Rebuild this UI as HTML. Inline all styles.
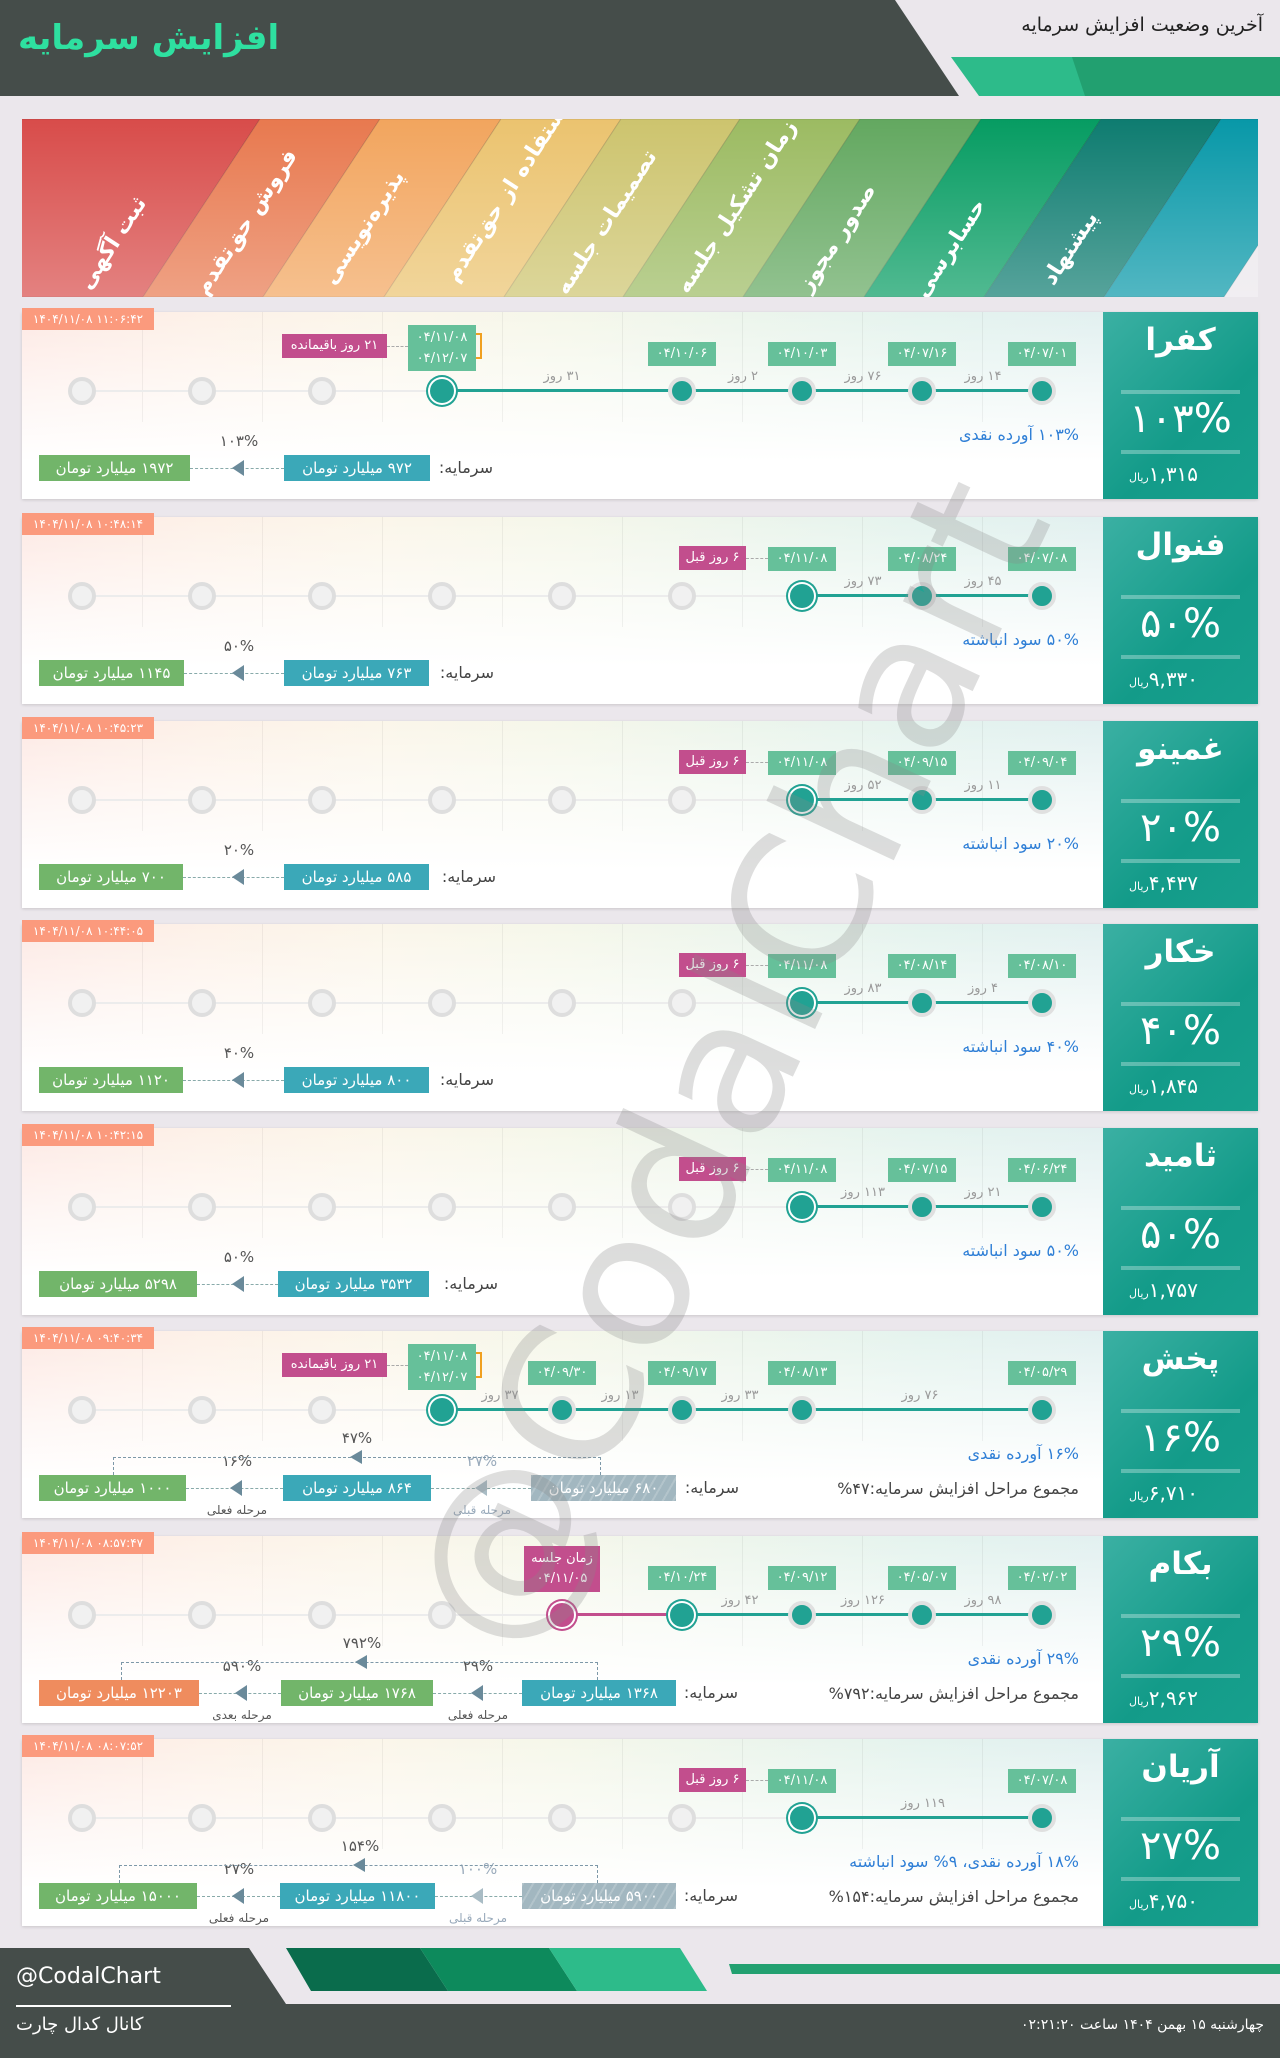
<!DOCTYPE html>
<html><head><meta charset="utf-8">
<style>
*{margin:0;padding:0;box-sizing:border-box}
body{width:1280px;height:2058px;position:relative;background:#ebe7ec;font-family:"DejaVu Sans","Liberation Sans",sans-serif;overflow:hidden}
.a{position:absolute}
.t{position:absolute;white-space:nowrap;direction:rtl}
.card{position:absolute;left:22px;width:1236px;height:187px;box-shadow:0 1px 3px rgba(0,0,0,.15);
background:linear-gradient(to bottom,rgba(255,255,255,0) 0%,rgba(255,255,255,.6) 45%,#fff 80%),linear-gradient(to right,#fde9e4,#fdf1e8,#fbf6ea,#f5f7ea,#ecf5ec,#e4f3ee,#e2f0f0 88%);}
.col{position:absolute;top:0;height:110px;width:1px;background:rgba(0,0,0,.05)}
.panel{position:absolute;left:1103px;width:155px;height:187px;background:linear-gradient(135deg,#3bb0a3,#139b89 60%,#17a08d);color:#fff;text-align:center}
.ts{position:absolute;left:22px;height:22px;width:132px;background:#fb9a7d;color:#fff;font-size:12px;line-height:22px;text-align:center;direction:ltr}
.cir{position:absolute;border-radius:50%}
.db{position:absolute;background:#66c09a;color:#fff;font-size:13px;text-align:center;line-height:24px;height:24px;width:68px}
.pk{position:absolute;background:#c24e8d;color:#fff;font-size:13px;text-align:center;line-height:24px;height:24px;direction:rtl}
.day{position:absolute;color:#9a9a9a;font-size:13px;direction:rtl;transform:translateX(-50%)}
.box{position:absolute;height:26px;color:#fff;font-size:15px;line-height:26px;text-align:center;direction:rtl;white-space:nowrap;overflow:hidden}
</style></head><body>

<svg class="a" style="left:0;top:0" width="1280" height="100">
<polygon points="0,0 895,0 959,96 0,96" fill="#454d4a"/>
<polygon points="951,57 1280,57 1280,96 979,96" fill="#2dbb8a"/>
<polygon points="1072,57 1280,57 1280,96 1085,96" fill="#22a070"/>
</svg>
<div class="t" style="left:18px;top:18px;font-size:34px;font-weight:bold;color:#2ee0a0">افزایش سرمایه</div>
<div class="t" style="right:17px;top:14px;font-size:19px;color:#222">آخرین وضعیت افزایش سرمایه</div>

<svg class="a" style="left:22px;top:119px" width="1236" height="178" viewBox="22 119 1236 178">
<defs><linearGradient id="wf" x1="0" y1="0" x2="0" y2="1"><stop offset="0" stop-color="#fff" stop-opacity="0"/><stop offset="1" stop-color="#fff" stop-opacity=".3"/></linearGradient></defs>
<g id="stripes"></g>
<rect x="22" y="119" width="1236" height="178" fill="url(#wf)"/>
<g id="labels" font-family="DejaVu Sans" font-weight="bold" font-size="22" fill="#fff"></g>
</svg>

<div id="root"></div>

<svg class="a" style="left:0;top:1940px" width="1280" height="118">
<polygon points="0,8 249,8 286,64 1280,64 1280,118 0,118" fill="#454d4a"/>
<polygon points="286,8 420,8 448,51 311,51" fill="#0a6c4c"/>
<polygon points="420,8 549,8 577,51 448,51" fill="#0d8a5c"/>
<polygon points="549,8 680,8 707,51 577,51" fill="#2dbb8a"/>
<polygon points="729,24 1280,24 1280,34 732,34" fill="#22a070"/>
<rect x="16" y="65" width="215" height="2" fill="#fff"/>
</svg>
<div class="t" style="left:16px;top:1964px;font-size:22px;color:#fff;direction:ltr">@CodalChart</div>
<div class="t" style="left:16px;top:2014px;font-size:18px;color:#fff">کانال کدال چارت</div>
<div class="t" style="right:16px;top:2017px;font-size:14px;color:#fff">چهارشنبه ۱۵ بهمن ۱۴۰۴ ساعت ۰۲:۲۱:۲۰</div>

<svg class="a" style="left:0;top:0;pointer-events:none" width="1280" height="2058">
<text x="0" y="0" transform="translate(740,1070) rotate(-65)" text-anchor="middle" dominant-baseline="middle" font-family="DejaVu Sans" font-size="185" fill="#8a8a8a" fill-opacity=".28" textLength="1260" lengthAdjust="spacingAndGlyphs">@CodalChart</text>
</svg>

<script>
(function(){
 var cols=['#d84c4a','#e8794f','#f2a55e','#ebc36f','#cdc46e','#9cbb62','#63a860','#069c62','#0e7c70','#0898a8'];
 var bot=[-100,143,263,384,504,623,743,864,984,1104,1224,1400];
 var s='';
 for(var i=0;i<10;i++){
  var b0=bot[i],b1=bot[i+1];
  s+='<polygon points="'+(b0+117)+',119 '+(b1+117)+',119 '+b1+',297 '+b0+',297" fill="'+cols[i]+'" stroke="rgba(0,0,0,.12)" stroke-width="1"/>';
 }
 document.getElementById('stripes').innerHTML=s;
 var labs=['ثبت آگهی','فروش حق‌تقدم','پذیره‌نویسی','استفاده از حق‌تقدم','تصمیمات جلسه','زمان تشکیل جلسه','صدور مجوز','حسابرسی','پیشنهاد'];
 var L='';
 for(var i=0;i<9;i++){
  var len=labs[i].length;
  var cy=285-len*5.2;
  var cx=(bot[i+1]-60)+(297-cy)/178*117-5;
  L+='<text x="0" y="0" text-anchor="middle" dominant-baseline="middle" transform="translate('+cx+','+cy+') rotate(-57)">'+labs[i]+'</text>';
 }
 document.getElementById('labels').innerHTML=L;
})();

var CX=function(i){return 82+120*i};
var cards=[
{T:312,ts:'۱۱:۰۶:۴۲',name:'کفرا',pct:'۱۰۳%',price:'۱,۳۱۵',
 c:'gggcnffff',line:[3,8],
 dates:[[8,'۰۴/۰۷/۰۱'],[7,'۰۴/۰۷/۱۶'],[6,'۰۴/۱۰/۰۳'],[5,'۰۴/۱۰/۰۶'],[3,['۰۴/۱۱/۰۸','۰۴/۱۲/۰۷']]],
 pink:{x:282,w:105,t:'۲۱ روز باقیمانده',y:22},
 days:[[983,'۱۴ روز'],[863,'۷۶ روز'],[743,'۲ روز'],[562,'۳۱ روز']],
 info:['۱۰۳% آورده نقدی'],
 sar:493,boxes:[[284,430,'#3ba8b8','۹۷۲ میلیارد تومان'],[39,190,'#72b56a','۱۹۷۲ میلیارد تومان']],
 arrows:[[239,'۱۰۳%','']]},
{T:517,ts:'۱۰:۴۸:۱۴',name:'فنوال',pct:'۵۰%',price:'۹,۳۳۰',
 c:'ggggggcff',line:[6,8],
 dates:[[8,'۰۴/۰۷/۰۸'],[7,'۰۴/۰۸/۲۴'],[6,'۰۴/۱۱/۰۸']],
 pink:{x:679,w:67,t:'۶ روز قبل',y:29},
 days:[[983,'۴۵ روز'],[863,'۷۳ روز']],
 info:['۵۰% سود انباشته'],
 sar:494,boxes:[[284,429,'#3ba8b8','۷۶۳ میلیارد تومان'],[39,184,'#72b56a','۱۱۴۵ میلیارد تومان']],
 arrows:[[239,'۵۰%','']]},
{T:721,ts:'۱۰:۴۵:۲۳',name:'غمینو',pct:'۲۰%',price:'۴,۴۳۷',
 c:'ggggggcff',line:[6,8],
 dates:[[8,'۰۴/۰۹/۰۴'],[7,'۰۴/۰۹/۱۵'],[6,'۰۴/۱۱/۰۸']],
 pink:{x:679,w:67,t:'۶ روز قبل',y:29},
 days:[[983,'۱۱ روز'],[863,'۵۲ روز']],
 info:['۲۰% سود انباشته'],
 sar:496,boxes:[[284,429,'#3ba8b8','۵۸۵ میلیارد تومان'],[39,183,'#72b56a','۷۰۰ میلیارد تومان']],
 arrows:[[239,'۲۰%','']]},
{T:924,ts:'۱۰:۴۴:۰۵',name:'خکار',pct:'۴۰%',price:'۱,۸۴۵',
 c:'ggggggcff',line:[6,8],
 dates:[[8,'۰۴/۰۸/۱۰'],[7,'۰۴/۰۸/۱۴'],[6,'۰۴/۱۱/۰۸']],
 pink:{x:679,w:67,t:'۶ روز قبل',y:29},
 days:[[983,'۴ روز'],[863,'۸۳ روز']],
 info:['۴۰% سود انباشته'],
 sar:494,boxes:[[284,429,'#3ba8b8','۸۰۰ میلیارد تومان'],[39,183,'#72b56a','۱۱۲۰ میلیارد تومان']],
 arrows:[[239,'۴۰%','']]},
{T:1128,ts:'۱۰:۴۲:۱۵',name:'ثامید',pct:'۵۰%',price:'۱,۷۵۷',
 c:'ggggggcff',line:[6,8],
 dates:[[8,'۰۴/۰۶/۲۴'],[7,'۰۴/۰۷/۱۵'],[6,'۰۴/۱۱/۰۸']],
 pink:{x:679,w:67,t:'۶ روز قبل',y:29},
 days:[[983,'۲۱ روز'],[863,'۱۱۳ روز']],
 info:['۵۰% سود انباشته'],
 sar:498,boxes:[[278,429,'#3ba8b8','۳۵۳۲ میلیارد تومان'],[39,197,'#72b56a','۵۲۹۸ میلیارد تومان']],
 arrows:[[239,'۵۰%','']]},
{T:1331,ts:'۰۹:۴۰:۳۴',name:'پخش',pct:'۱۶%',price:'۶,۷۱۰',
 c:'gggcfffnf',line:[3,8],
 dates:[[8,'۰۴/۰۵/۲۹'],[6,'۰۴/۰۸/۱۳'],[5,'۰۴/۰۹/۱۷'],[4,'۰۴/۰۹/۳۰'],[3,['۰۴/۱۱/۰۸','۰۴/۱۲/۰۷']]],
 pink:{x:282,w:105,t:'۲۱ روز باقیمانده',y:22},
 days:[[920,'۷۶ روز'],[740,'۳۳ روز'],[620,'۱۳ روز'],[500,'۳۷ روز']],
 info:['۱۶% آورده نقدی','مجموع مراحل افزایش سرمایه:۴۷%'],
 sar:739,boxes:[[531,676,'#a2b7c0','۶۸۰ میلیارد تومان',1],[283,431,'#3ba8b8','۸۶۴ میلیارد تومان'],[39,186,'#72b56a','۱۰۰۰ میلیارد تومان']],
 arrows:[[482,'۲۷%','مرحله قبلی',1],[237,'۱۶%','مرحله فعلی']],
 br:[113,601,357,'۴۷%']},
{T:1536,ts:'۰۸:۵۷:۴۷',name:'بکام',pct:'۲۹%',price:'۲,۹۶۲',
 c:'ggggpcfff',line:[5,8],pline:[4,5],
 dates:[[8,'۰۴/۰۲/۰۲'],[7,'۰۴/۰۵/۰۷'],[6,'۰۴/۰۹/۱۲'],[5,'۰۴/۱۰/۲۴']],
 meet:true,
 days:[[983,'۹۸ روز'],[863,'۱۲۶ روز'],[740,'۴۲ روز']],
 info:['۲۹% آورده نقدی','مجموع مراحل افزایش سرمایه:۷۹۲%'],
 sar:738,boxes:[[522,676,'#3ba8b8','۱۳۶۸ میلیارد تومان'],[281,433,'#72b56a','۱۷۶۸ میلیارد تومان'],[39,199,'#ef8c5e','۱۲۲۰۳ میلیارد تومان']],
 arrows:[[478,'۲۹%','مرحله فعلی'],[242,'۵۹۰%','مرحله بعدی']],
 br:[121,598,362,'۷۹۲%']},
{T:1739,ts:'۰۸:۰۷:۵۲',name:'آریان',pct:'۲۷%',price:'۴,۷۵۰',
 c:'ggggggcnf',line:[6,8],
 dates:[[8,'۰۴/۰۷/۰۸'],[6,'۰۴/۱۱/۰۸']],
 pink:{x:679,w:67,t:'۶ روز قبل',y:29},
 days:[[923,'۱۱۹ روز']],
 info:['۱۸% آورده نقدی، ۹% سود انباشته','مجموع مراحل افزایش سرمایه:۱۵۴%'],
 sar:738,boxes:[[522,676,'#a2b7c0','۵۹۰۰ میلیارد تومان',1],[280,435,'#3ba8b8','۱۱۸۰۰ میلیارد تومان'],[39,197,'#72b56a','۱۵۰۰۰ میلیارد تومان']],
 arrows:[[478,'۱۰۰%','مرحله قبلی',1],[239,'۲۷%','مرحله فعلی']],
 br:[119,598,360,'۱۵۴%']}
];
var h='';
function A(s){h+=s}
cards.forEach(function(d){
 var T=d.T;
 A('<div class="card" style="top:'+T+'px">');
 for(var i=1;i<9;i++)A('<div class="col" style="left:'+(120*i)+'px"></div>');
 A('</div>');
 A('<div class="panel" style="top:'+T+'px">'+
  '<div class="a" style="left:0;width:155px;top:10px;font-size:31px;font-weight:bold;direction:rtl">'+d.name+'</div>'+
  '<div class="a" style="left:18px;width:119px;top:78px;height:4px;background:rgba(255,255,255,.3)"></div>'+
  '<div class="a" style="left:0;width:155px;top:84px;font-size:40px;direction:ltr">'+d.pct+'</div>'+
  '<div class="a" style="left:18px;width:119px;top:138px;height:4px;background:rgba(255,255,255,.3)"></div>'+
  '<div class="t" style="left:26px;top:150px;font-size:20px">'+d.price+'<span style="font-size:11px">ریال</span></div></div>');
 A('<div class="a" style="left:'+CX(0)+'px;width:'+(CX(8)-CX(0))+'px;top:'+(T+78)+'px;height:2px;background:#ececec"></div>');
 A('<div class="a" style="left:'+CX(d.line[0])+'px;width:'+(CX(d.line[1])-CX(d.line[0]))+'px;top:'+(T+77)+'px;height:3px;background:#21a293"></div>');
 if(d.pline)A('<div class="a" style="left:'+CX(d.pline[0])+'px;width:120px;top:'+(T+77)+'px;height:3px;background:#c24e8d"></div>');
 for(var i=0;i<9;i++){
  var s=d.c[i],x=CX(i),y=T+79;
  if(s=='g')A('<div class="cir" style="left:'+(x-14)+'px;top:'+(y-14)+'px;width:28px;height:28px;background:#f1f1f1;border:4px solid #dedede"></div>');
  if(s=='f')A('<div class="cir" style="left:'+(x-14)+'px;top:'+(y-14)+'px;width:28px;height:28px;background:#21a293;border:4px solid #e0e0e0"></div>');
  if(s=='c'||s=='p'){var cc=s=='c'?'#21a293':'#c24e8d';A('<div class="cir" style="left:'+(x-12)+'px;top:'+(y-12)+'px;width:24px;height:24px;background:'+cc+';box-shadow:0 0 0 2px #fff,0 0 0 4px '+cc+'"></div>');}
 }
 d.dates.forEach(function(e){
  var x=CX(e[0]);
  if(Array.isArray(e[1])){
   A('<div class="db" style="left:'+(x-34)+'px;top:'+(T+13)+'px;height:46px;line-height:21px;padding-top:2px">'+e[1][0]+'<br>'+e[1][1]+'</div>');
   A('<div class="a" style="left:'+(x+34)+'px;top:'+(T+21)+'px;width:6px;height:26px;border:2px solid #f0a020;border-left:none"></div>');
   A('<div class="a" style="left:'+(d.pink.x+d.pink.w)+'px;width:'+(x-34-d.pink.x-d.pink.w)+'px;top:'+(T+34)+'px;border-top:1px dashed #aaa"></div>');
  } else {
   A('<div class="db" style="left:'+(x-34)+'px;top:'+(T+30)+'px">'+e[1]+'</div>');
  }
 });
 if(d.pink){var p=d.pink;
  A('<div class="pk" style="left:'+p.x+'px;width:'+p.w+'px;top:'+(T+p.y)+'px">'+p.t+'</div>');
  if(p.y==29)A('<div class="a" style="left:'+(p.x+p.w)+'px;width:'+(CX(6)-34-p.x-p.w)+'px;top:'+(T+41)+'px;border-top:1px dashed #aaa"></div>');
 }
 if(d.meet)A('<div class="pk" style="left:'+(CX(4)-38)+'px;width:76px;top:'+(T+10)+'px;height:46px;line-height:20px;padding-top:3px">زمان جلسه<br>۰۴/۱۱/۰۵</div>');
 d.days.forEach(function(e){A('<div class="day" style="left:'+e[0]+'px;top:'+(T+57)+'px">'+e[1]+'</div>')});
 A('<div class="t" style="right:'+(1280-1079)+'px;top:'+(T+113)+'px;font-size:16px;color:#2f7fd6">'+d.info[0]+'</div>');
 if(d.info[1])A('<div class="t" style="right:'+(1280-1079)+'px;top:'+(T+148)+'px;font-size:16px;color:#444">'+d.info[1]+'</div>');
 var by=d.info[1]?T+144:T+143;
 A('<div class="t" style="right:'+(1280-d.sar)+'px;top:'+(by+3)+'px;font-size:16px;color:#444">سرمایه:</div>');
 for(var k=0;k<d.boxes.length-1;k++){
  A('<div class="a" style="left:'+d.boxes[k+1][1]+'px;width:'+(d.boxes[k][0]-d.boxes[k+1][1])+'px;top:'+(by+13)+'px;border-top:1px dashed #8aa"></div>');
 }
 d.boxes.forEach(function(b){
  var bg=b[4]?'background:'+b[2]+' repeating-linear-gradient(120deg,rgba(255,255,255,.18) 0 2px,transparent 2px 9px)':'background:'+b[2];
  A('<div class="box" style="left:'+b[0]+'px;width:'+(b[1]-b[0])+'px;top:'+by+'px;'+bg+'">'+b[3]+'</div>');
 });
 d.arrows.forEach(function(a){
  var col=a[3]?'#a9bcc5':'#6a8a9a';
  A('<div class="a" style="left:'+(a[0]-7)+'px;top:'+(by+5)+'px;width:0;height:0;border-top:8px solid transparent;border-bottom:8px solid transparent;border-right:12px solid '+col+'"></div>');
  A('<div class="t" style="left:'+a[0]+'px;transform:translateX(-50%);direction:ltr;top:'+(by-23)+'px;font-size:15px;color:'+(a[3]?'#9ab':'#555')+'">'+a[1]+'</div>');
  if(a[2])A('<div class="t" style="left:'+a[0]+'px;transform:translateX(-50%);top:'+(by+28)+'px;font-size:12px;color:'+(a[3]?'#9ab':'#555')+'">'+a[2]+'</div>');
 });
 if(d.br){var r=d.br,yy=T+126;
  A('<div class="a" style="left:'+r[0]+'px;width:'+(r[1]-r[0])+'px;top:'+yy+'px;height:'+(by-yy)+'px;border:1px dashed #7d98a8;border-bottom:none"></div>');
  A('<div class="a" style="left:'+(r[2]-7)+'px;top:'+(yy-7)+'px;width:0;height:0;border-top:7px solid transparent;border-bottom:7px solid transparent;border-right:12px solid #6a8a9a"></div>');
  A('<div class="t" style="left:'+r[2]+'px;transform:translateX(-50%);direction:ltr;top:'+(yy-28)+'px;font-size:15px;color:#555">'+r[3]+'</div>');
 }
 A('<div class="ts" style="top:'+(T-4)+'px">۱۴۰۴/۱۱/۰۸ '+d.ts+'</div>');
});
document.getElementById('root').innerHTML=h;
</script>
</body></html>
